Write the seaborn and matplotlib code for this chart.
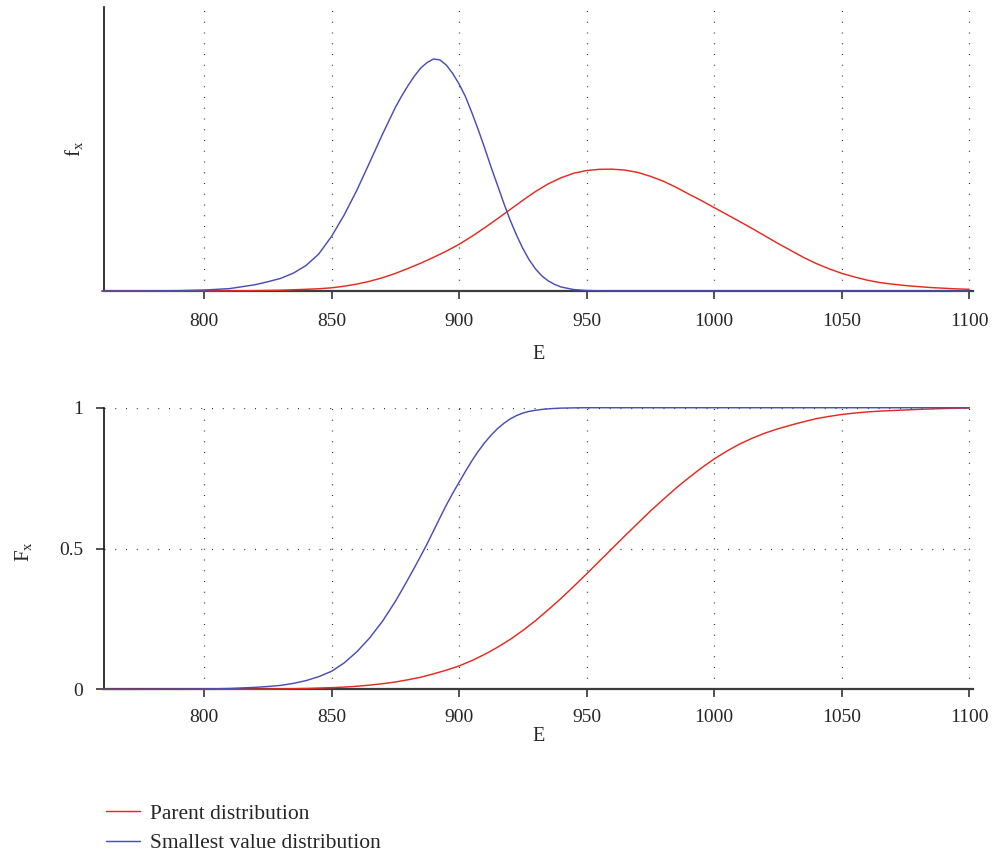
import matplotlib
matplotlib.use("Agg")
import matplotlib.pyplot as plt
import seaborn as sns
import pandas as pd

# values (pdf in units of 1e-3 per unit of E)
e_parent = [760, 770, 780, 790, 800, 810, 820, 830, 840, 845, 850, 855, 860, 865,
            870, 875, 880, 885, 890, 895, 900, 905, 910, 915, 920, 925, 930, 935,
            940, 945, 950, 955, 960, 965, 970, 975, 980, 985, 990, 995, 1000,
            1005, 1010, 1015, 1020, 1025, 1030, 1035, 1040, 1045, 1050, 1055,
            1060, 1065, 1070, 1075, 1080, 1085, 1090, 1095, 1100]
pdf_parent = [0.0, 0.001, 0.0015, 0.004, 0.007, 0.015, 0.03, 0.06, 0.13, 0.17,
              0.24, 0.36, 0.52, 0.73, 0.99, 1.31, 1.68, 2.08, 2.51, 2.97, 3.48,
              4.07, 4.71, 5.38, 6.07, 6.76, 7.42, 7.99, 8.44, 8.78, 8.98, 9.07,
              9.08, 9.01, 8.84, 8.55, 8.19, 7.74, 7.23, 6.74, 6.22, 5.70, 5.18,
              4.65, 4.10, 3.55, 3.03, 2.51, 2.05, 1.66, 1.32, 1.05, 0.81, 0.63,
              0.51, 0.41, 0.33, 0.26, 0.21, 0.16, 0.13]
cdf_parent = [0.0, 0.0, 0.0, 0.0, 0.0001, 0.0002, 0.0006, 0.0015, 0.003, 0.0045,
              0.006, 0.008, 0.011, 0.015, 0.020, 0.026, 0.034, 0.043, 0.055,
              0.068, 0.083, 0.102, 0.124, 0.149, 0.177, 0.209, 0.244, 0.283,
              0.323, 0.366, 0.410, 0.455, 0.500, 0.545, 0.589, 0.633, 0.674,
              0.714, 0.751, 0.786, 0.818, 0.846, 0.871, 0.892, 0.910, 0.925,
              0.938, 0.950, 0.961, 0.969, 0.976, 0.981, 0.985, 0.988, 0.990,
              0.992, 0.994, 0.9955, 0.997, 0.998, 0.999]

e_smallest = [760, 770, 780, 790, 800, 810, 820, 825, 830, 835, 840, 845, 850, 855,
              860, 865, 870, 875, 877.5, 880, 882.5, 885, 887.5, 890, 892.5, 895,
              897.5, 900, 902.5, 905, 907.5, 910, 912.5, 915, 917.5, 920, 922.5,
              925, 927.5, 930, 932.5, 935, 937.5, 940, 945, 950, 960, 970, 980,
              990, 1000, 1010, 1020, 1030, 1040, 1050, 1060, 1070, 1080, 1090,
              1100]
pdf_smallest = [0.002, 0.005, 0.012, 0.03, 0.075, 0.18, 0.47, 0.69, 0.94, 1.33,
                1.90, 2.76, 4.07, 5.68, 7.54, 9.60, 11.69, 13.67, 14.53, 15.31,
                16.02, 16.62, 17.03, 17.29, 17.22, 16.84, 16.21, 15.43, 14.49,
                13.30, 12.03, 10.68, 9.26, 7.92, 6.57, 5.30, 4.18, 3.17, 2.32,
                1.64, 1.12, 0.75, 0.49, 0.30, 0.11, 0.04, 0.004, 0.0, 0.0, 0.0,
                0.0, 0.0, 0.0, 0.0, 0.0, 0.0, 0.0, 0.0, 0.0, 0.0, 0.0]
cdf_smallest = [0.0, 0.0001, 0.0002, 0.0005, 0.0012, 0.003, 0.007, 0.010, 0.014,
                0.021, 0.031, 0.045, 0.064, 0.094, 0.134, 0.183, 0.242, 0.312,
                0.351, 0.391, 0.432, 0.474, 0.517, 0.563, 0.609, 0.654, 0.696,
                0.735, 0.774, 0.811, 0.845, 0.875, 0.902, 0.925, 0.944, 0.960,
                0.972, 0.981, 0.987, 0.991, 0.994, 0.996, 0.9975, 0.9985, 0.9995,
                1.0, 1.0, 1.0, 1.0, 1.0, 1.0, 1.0, 1.0, 1.0, 1.0, 1.0, 1.0, 1.0,
                1.0, 1.0, 1.0]

series_names = ["Parent distribution", "Smallest value distribution"]
x_ticks = [800, 850, 900, 950, 1000, 1050, 1100]
cdf_ticks = [0, 0.5, 1]
cdf_tick_labels = ["0", "0.5", "1"]

palette = {series_names[0]: "#e52a20", series_names[1]: "#4a4fb2"}

df = pd.concat([
    pd.DataFrame({"E": e_parent, "pdf": pdf_parent, "cdf": cdf_parent,
                  "series": series_names[0]}),
    pd.DataFrame({"E": e_smallest, "pdf": pdf_smallest, "cdf": cdf_smallest,
                  "series": series_names[1]}),
])

sns.set_style("white")
plt.rcParams["font.family"] = ["Liberation Serif", "DejaVu Serif"]
plt.rcParams["mathtext.fontset"] = "custom"
plt.rcParams["mathtext.rm"] = "Liberation Serif"
plt.rcParams["mathtext.it"] = "Liberation Serif:italic"

fig = plt.figure(figsize=(9.95, 8.56), dpi=100)
ax1 = fig.add_axes([0.1045, 0.6600, 0.8737, 0.3324])
ax2 = fig.add_axes([0.1045, 0.1947, 0.8737, 0.3290])

grid_style = dict(color="#333333", linestyle=(0, (0.8, 7.8)), linewidth=0.9)

for ax, col, pad in [(ax1, "pdf", 9.5), (ax2, "cdf", 8)]:
    sns.lineplot(data=df, x="E", y=col, hue="series", hue_order=series_names,
                 palette=palette, linewidth=1.05, legend=False, ax=ax,
                 estimator=None, sort=True)
    for ln in ax.get_lines():
        ln.set_clip_on(False)
        ln.set_zorder(4)
    ax.set_xlim(760.8, 1101.6)
    ax.set_xticks(x_ticks)
    ax.grid(axis="x", **grid_style)
    ax.spines["top"].set_visible(False)
    ax.spines["right"].set_visible(False)
    ax.spines["left"].set_color("#111111")
    ax.spines["left"].set_linewidth(1.2)
    ax.spines["bottom"].set_color("#3c3c3c")
    ax.spines["bottom"].set_linewidth(1.6)
    ax.tick_params(axis="x", direction="out", length=6, width=1.1,
                   color="#222222", labelsize=14, pad=pad, bottom=True)
    ax.set_xlabel("E", fontsize=14.5, va="center")

ax1.set_ylim(0, 21.2)
ax1.set_yticks([])
ax1.set_ylabel(r"$\mathrm{f}_\mathrm{x}$", fontsize=15, va="center")
ax1.xaxis.set_label_coords(0.5, -0.2214)
ax1.yaxis.set_label_coords(-0.035, 0.5)

ax2.set_ylim(0, 1)
ax2.set_yticks(cdf_ticks)
ax2.set_yticklabels(cdf_tick_labels)
ax2.grid(axis="y", **grid_style)
ax2.tick_params(axis="y", direction="out", length=6, width=1.1,
                color="#222222", labelsize=14, pad=9, left=True)
ax2.set_ylabel(r"$\mathrm{F}_\mathrm{x}$", fontsize=15, va="center")
ax2.xaxis.set_label_coords(0.5, -0.169)
ax2.yaxis.set_label_coords(-0.093, 0.49)

handles = ax1.get_lines()[:2]
fig.legend(handles, series_names, loc="upper left",
           bbox_to_anchor=(0.1065, 0.0614), frameon=False,
           fontsize=15.5, handlelength=1.58, handletextpad=0.47,
           labelspacing=0.46, borderpad=0, borderaxespad=0)

fig.savefig("out.png", dpi=100)
